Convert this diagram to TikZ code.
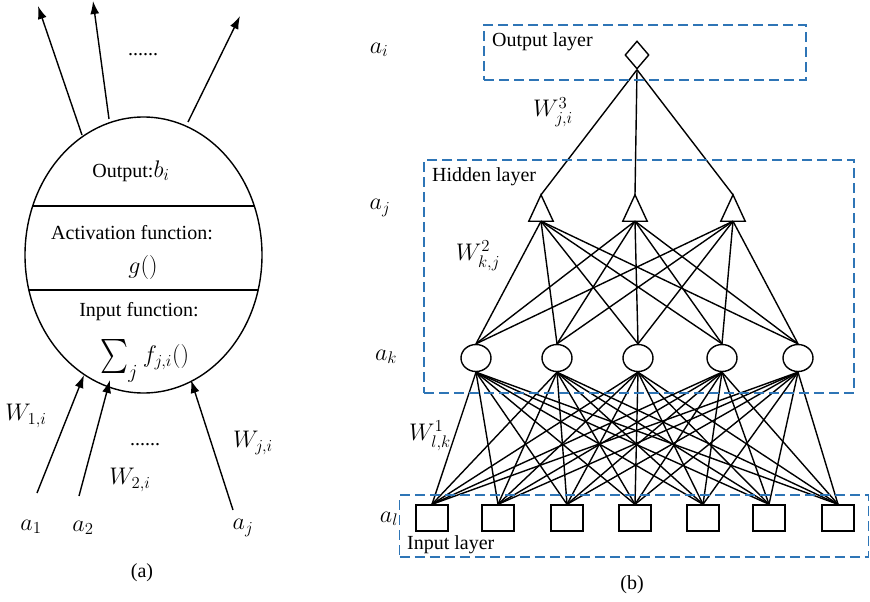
\RequirePackage{fix-cm}
\documentclass[tikz,border=0pt]{standalone}
\usepackage{exscale}
\usepackage{fontspec}
\setmainfont{Liberation Serif}
\usetikzlibrary{shapes.geometric,arrows.meta}
\definecolor{layerblue}{RGB}{46,117,182}
\begin{document}
\begin{tikzpicture}[x=1pt,y=-1pt,
  font=\fontsize{20}{24}\selectfont,
  wire/.style={line width=1.4pt},
  arr/.style={line width=1.4pt,-{Latex[length=13pt,width=9pt]}},
  layerbox/.style={draw=layerblue,line width=1.8pt,dash pattern=on 10pt off 5pt},
  lbl/.style={inner sep=0pt},
  mlbl/.style={inner sep=0pt,font=\fontsize{24}{28}\selectfont},
  neuron/.style={draw,line width=1.4pt,ellipse,minimum width=30pt,minimum height=27pt,inner sep=0pt},
  inunit/.style={draw,line width=1.4pt,rectangle,minimum width=32pt,minimum height=26pt,inner sep=0pt},
  hidunit/.style={rectangle,minimum width=24pt,minimum height=26pt,inner sep=0pt},
  outunit/.style={draw,line width=1.4pt,diamond,minimum width=24pt,minimum height=28pt,inner sep=0pt}]
\useasboundingbox (0,0) rectangle (870,602);

% ---------------- (a) a single unit ----------------
\node[draw,line width=1.4pt,ellipse,minimum width=237pt,minimum height=276pt,inner sep=0pt] (cell) at (143.5,255) {};
\coordinate (c1l) at (32.7,206); \coordinate (c1r) at (254.3,206);
\coordinate (c2l) at (29,290);   \coordinate (c2r) at (258,290);
\draw[wire] (c1l) -- (c1r);
\draw[wire] (c2l) -- (c2r);

\node[lbl] (outtxt) at (131,171) {Output:{\fontsize{24}{28}\selectfont$b_i$}};
\node[lbl] (acttxt) at (132,233) {Activation function:};
\node[mlbl] (gtxt) at (143,267) {$g()$};
\node[lbl] (intxt) at (139,312) {Input function:};
% summation sign with its index, then the summand
\node[lbl] (sumsign) at (114,356) {\resizebox*{28pt}{34pt}{$\sum$}};
\node[mlbl,font=\fontsize{20}{24}\selectfont] (sumidx) at (133,374) {$j$};
\node[mlbl] (sumarg) at (166,357) {$f_{j,i}()$};

% outgoing connections
\coordinate (o1s) at (82,135);  \coordinate (o1e) at (38,6);
\coordinate (o2s) at (109,119); \coordinate (o2e) at (93,1);
\coordinate (o3s) at (188,122); \coordinate (o3e) at (240,16);
\draw[arr] (o1s) -- (o1e);
\draw[arr] (o2s) -- (o2e);
\draw[arr] (o3s) -- (o3e);
\node[lbl] (odots) at (143,55) {......};

% incoming connections
\node[mlbl] (a1) at (31,527) {$a_1$};
\node[mlbl] (a2) at (83,528) {$a_2$};
\node[mlbl] (aj) at (243,528) {$a_j$};
\coordinate (i1s) at (37,493);  \coordinate (i1e) at (84,375);
\coordinate (i2s) at (79,496);  \coordinate (i2e) at (110,380);
\coordinate (i3s) at (233,510); \coordinate (i3e) at (191,380);
\draw[arr] (i1s) -- (i1e);
\draw[arr] (i2s) -- (i2e);
\draw[arr] (i3s) -- (i3e);
\node[mlbl] (w1) at (26,416) {$W_{1,i}$};
\node[mlbl] (w2) at (130,480) {$W_{2,i}$};
\node[mlbl] (wj) at (253,443) {$W_{j,i}$};
\node[lbl] (idots) at (145,445) {......};
\node[lbl] (capa) at (142,573) {(a)};

% ---------------- (b) the network ----------------
\node[mlbl] (ai) at (379,50) {$a_i$};
\node[mlbl] (ajl) at (380,208) {$a_j$};
\node[mlbl] (ak) at (386,357) {$a_k$};
\node[mlbl] (al) at (389,519) {$a_l$};

% output layer
\node[outunit] (o) at (637,55) {};

% hidden layer (triangles)
\foreach \i/\x in {1/541,2/635,3/733}{
  \node[hidunit] (t\i) at (\x,208) {};
  \draw[line width=1.4pt,line join=miter] (t\i.north) -- (t\i.south east) -- (t\i.south west) -- cycle;
}

% hidden layer (circles)
\foreach \i/\x in {1/476,2/557,3/638,4/722,5/798}{
  \node[neuron] (h\i) at (\x,358) {};
}

% input layer
\foreach \i/\x in {1/432,2/498,3/567,4/635,5/703,6/769,7/838}{
  \node[inunit] (x\i) at (\x,518) {};
}

% connections
\foreach \i in {1,2,3}{ \draw[wire] (o.south) -- (t\i.north); }
\foreach \i in {1,2,3}{
  \foreach \k in {1,...,5}{ \draw[wire] (t\i.south) -- (h\k.north); }
}
\foreach \k in {1,...,5}{
  \foreach \l in {1,...,7}{ \draw[wire] (h\k.south) -- (x\l.north); }
}

% layer frames
\node[layerbox,rectangle,minimum width=322pt,minimum height=55pt,inner sep=0pt] (outbox) at (645,52.5) {};
\node[layerbox,rectangle,minimum width=430pt,minimum height=233pt,inner sep=0pt] (hidbox) at (639,276.5) {};
\node[layerbox,rectangle,minimum width=469pt,minimum height=62pt,inner sep=0pt] (inbox) at (634,526) {};
\node[lbl,anchor=west] (outlbl) at (492,42) {Output layer};
\node[lbl,anchor=west] (hidlbl) at (432,177) {Hidden layer};
\node[lbl,anchor=west] (inlbl) at (407,545) {Input layer};

\node[mlbl] (w3) at (553,112) {$W_{j,i}^{3}$};
\node[mlbl] (w2b) at (478,256) {$W_{k,j}^{2}$};
\node[mlbl] (w1b) at (430,436) {$W_{l,k}^{1}$};
\node[lbl] (capb) at (632,585) {(b)};
\end{tikzpicture}
\end{document}
